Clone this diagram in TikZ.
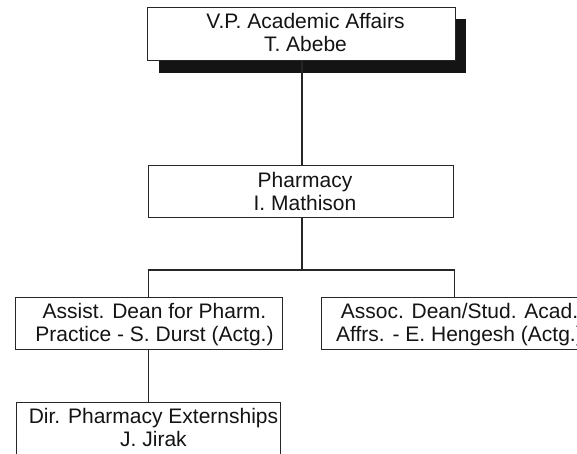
\documentclass[tikz,border=0pt]{standalone}
\usepackage{fontspec}
\setmainfont{Liberation Sans}
\begin{document}
\begin{tikzpicture}[x=1pt,y=-1pt,
  orgbox/.style={draw=black!85, line width=0.9pt, fill=white, rectangle, inner sep=0pt},
  orgtext/.style={align=center, font=\fontsize{21}{23}\selectfont, inner sep=0pt, text=black!92, text depth=0pt, anchor=south},
  link/.style={draw=black!85, line width=1.1pt},
  shadowfill/.style={fill=black!92}]
\useasboundingbox (0,0) rectangle (577,454);
% shadow of top box
\fill[shadowfill] (159,19) rectangle (466,73);
% boxes
\node[orgbox, minimum width=308pt, minimum height=53pt] (top) at (301,33.5) {};
\node[orgbox, minimum width=305pt, minimum height=52pt] (pharm) at (300.5,191) {};
\node[orgbox, minimum width=267pt, minimum height=52pt] (left) at (148.5,323) {};
\node[orgbox, minimum width=267pt, minimum height=52pt] (right) at (454.5,323) {};
\node[orgbox, minimum width=264pt, minimum height=53pt] (dir) at (148,428.5) {};
% texts
\node[orgtext] (toptext) at ([xshift=4.5pt,yshift=-45pt]top.north) {V.P. Academic Affairs\\T. Abebe};
\node[orgtext] (pharmtext) at ([xshift=4.5pt,yshift=-46pt]pharm.north) {Pharmacy\\I. Mathison};
\node[orgtext] (lefttext) at ([xshift=6pt,yshift=-45pt]left.north) {Assist. Dean for Pharm.\\Practice - S. Durst (Actg.)};
\node[orgtext] (righttext) at ([xshift=5pt,yshift=-45pt]right.north) {Assoc. Dean/Stud. Acad.\\Affrs. - E. Hengesh (Actg.)};
\node[orgtext] (dirtext) at ([xshift=5.5pt,yshift=-45pt]dir.north) {Dir. Pharmacy Externships\\J. Jirak};
% connectors
\coordinate (bar) at (302,270);
\draw[link] ([xshift=1pt]top.south) -- ([xshift=1pt]top.south |- pharm.north);
\draw[link] (pharm.south -| bar) -- (bar);
\draw[link] (left.north) -- (left.north |- bar) -- (right.north |- bar) -- (right.north);
\draw[link] (left.south) -- (left.south |- dir.north);
\end{tikzpicture}
\end{document}
